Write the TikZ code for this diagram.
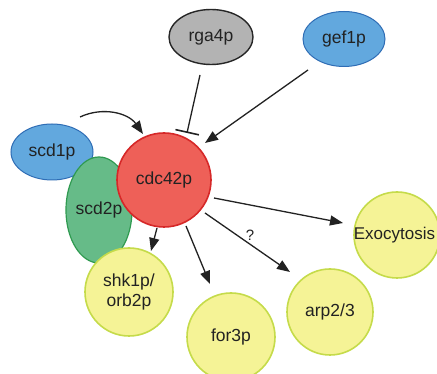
\documentclass[tikz,border=0pt]{standalone}
\usepackage{fontspec}
\setmainfont{Liberation Sans}
\usetikzlibrary{shapes.geometric,arrows.meta,calc}
\definecolor{bluefill}{HTML}{62A8DE}
\definecolor{blueline}{HTML}{2F6DB5}
\definecolor{grayfill}{HTML}{B3B3B3}
\definecolor{grayline}{HTML}{262626}
\definecolor{redfill}{HTML}{EE6058}
\definecolor{redline}{HTML}{D62828}
\definecolor{greenfill}{HTML}{66BB88}
\definecolor{greenline}{HTML}{2F9A50}
\definecolor{yelfill}{HTML}{F5F396}
\definecolor{yelline}{HTML}{C5DB4A}
\definecolor{ink}{HTML}{222222}
\begin{document}
\begin{tikzpicture}[x=1pt,y=1pt,
  lbl/.style={font=\fontsize{17.5}{19.5}\selectfont, text=ink, inner sep=0pt, align=center},
  blueell/.style={lbl, ellipse, fill=bluefill, draw=blueline, line width=1pt},
  grayell/.style={lbl, ellipse, fill=grayfill, draw=grayline, line width=1.4pt},
  redcirc/.style={lbl, circle, fill=redfill, draw=redline, line width=1.6pt, minimum size=94pt},
  greenell/.style={lbl, ellipse, fill=greenfill, draw=greenline, line width=1.2pt},
  yelcirc/.style={lbl, circle, fill=yelfill, draw=yelline, line width=1.6pt},
  arr/.style={draw=ink, line width=1.3pt, -{Triangle[length=13pt,width=10pt]}},
  inhib/.style={draw=ink, line width=1.3pt, -{Bar[width=24pt,line width=1.6pt]}}
]
\useasboundingbox (0,0) rectangle (437,374);
\fill[white] (0,0) rectangle (437,374);

\node[grayell, minimum width=84pt, minimum height=55pt] (rga4p) at (211,337) {rga4p};
\node[blueell, minimum width=82pt, minimum height=55pt] (gef1p) at (344,335) {gef1p};
\node[blueell, minimum width=82pt, minimum height=56pt] (scd1p) at (52,222) {scd1p};
\node[greenell, minimum width=54pt, minimum height=106pt] (scd2p) at (99,164) {scd2p};
\node[redcirc] (cdc42p) at (164,194) {cdc42p};
\node[yelcirc, minimum size=88pt] (shk1p) at (129,82) {shk1p/\\orb2p};
\node[yelcirc, minimum size=88pt] (for3p) at (231,37) {for3p};
\node[yelcirc, minimum size=86pt] (arp) at (330,62) {arp2/3};
\node[yelcirc, minimum size=86pt] (exo) at (397,139) {};
\node[lbl, font=\fontsize{17}{19}\selectfont] (exotext) at ($(exo)+(-2.5,0)$) {Exocytosis};

% scd1p curved arrow
\draw[arr] ($(scd1p)+(28,35)$) to[out=25,in=125] ($(cdc42p)+(-21,46)$);
% rga4p inhibition
\draw[inhib] ($(rga4p)+(-11,-38)$) -- ($(cdc42p)+(23,47)$);
% gef1p activation
\draw[arr] ($(gef1p)+(-36,-31)$) -- ($(cdc42p)+(41,37)$);
% downstream
\draw[arr] ($(cdc42p)+(50,-18)$) -- ($(exo)+(-54,12)$);
\draw[arr] ($(cdc42p)+(41,-33)$) -- ($(arp)+(-40,40)$);
\node[lbl, font=\fontsize{15}{17}\selectfont] (q) at ($(cdc42p)+(86,-55)$) {?};
\draw[arr] ($(cdc42p)+(22,-46)$) -- ($(for3p)+(-21,53)$);
\draw[arr] ($(cdc42p)+(-7,-48)$) -- ($(shk1p)+(22,41)$);
\end{tikzpicture}
\end{document}
